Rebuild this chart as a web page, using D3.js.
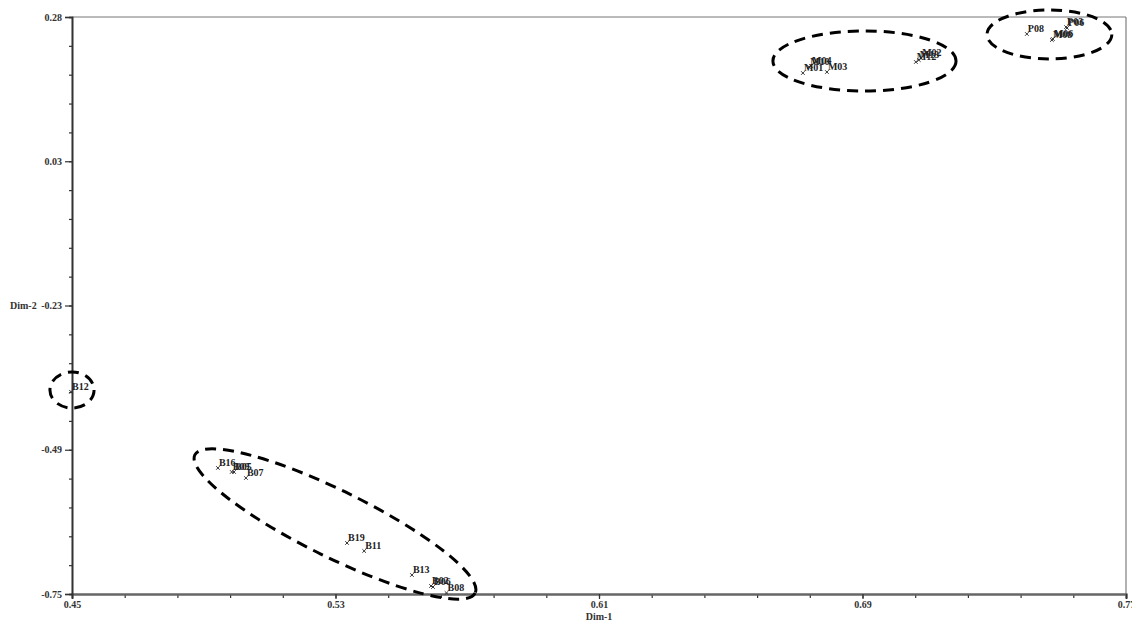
<!DOCTYPE html>
<html>
<head>
<meta charset="utf-8">
<script src="https://cdn.jsdelivr.net/npm/d3@7"></script>
<style>
  html, body { margin: 0; padding: 0; background: #fff; }
  svg { display: block; }
  text { font-family: "Liberation Serif", "DejaVu Serif", serif; }
</style>
</head>
<body>
<svg id="chart" width="1132" height="621"></svg>
<script>
// Sample coordinates on the first two dimensions
const names = ["B12",
  "B16", "B09", "B05", "B07",
  "B19", "B11", "B13", "B02", "B06", "B08",
  "M01", "M10", "M04", "M03", "M12", "M13", "M02",
  "P08", "P03", "P06", "M06", "M08"];
const dim1 = [0.4497,
  0.4943, 0.4985, 0.4992, 0.5028,
  0.5335, 0.5387, 0.5532, 0.5590, 0.5596, 0.5637,
  0.6719, 0.6738, 0.6744, 0.6792, 0.7062, 0.7071, 0.7078,
  0.7399, 0.7518, 0.7521, 0.7478, 0.7475];
const dim2 = [-0.389,
  -0.5250, -0.5322, -0.5322, -0.5429,
  -0.6589, -0.6732, -0.7161, -0.7357, -0.7375, -0.7482,
  0.1800, 0.1908, 0.1925, 0.1818, 0.1997, 0.2032, 0.2068,
  0.2497, 0.2620, 0.2604, 0.2407, 0.2389];

// Axis ticks
const xDomain = [0.45, 0.77];
const yDomain = [-0.75, 0.28];
const xTickLabels = ["0.45", "0.53", "0.61", "0.69", "0.77"];
const yTickLabels = ["-0.75", "-0.49", "-0.23", "0.03", "0.28"];
const xMinorPerMajor = 5;
const yMinorPerMajor = 5;

// Group outlines: two end points of the long axis (data units) and minor/major ratio
const groupTipA = [[0.7278, 0.2488], [0.6628, 0.2015], [0.4433, -0.3858], [0.4873, -0.5018]];
const groupTipB = [[0.7657, 0.2488], [0.7184, 0.2015], [0.4567, -0.3858], [0.5724, -0.7482]];
const groupRatio = [0.392, 0.328, 0.818, 0.213];

const svg = d3.select("#chart");
const plotLeft = 72, plotRight = 1126, plotTop = 17, plotBottom = 594;

const x = d3.scaleLinear().domain(xDomain).range([plotLeft, plotRight]);
const y = d3.scaleLinear().domain(yDomain).range([plotBottom, plotTop]);

const xMajor = xTickLabels.map((_, i) => xDomain[0] + i * (xDomain[1] - xDomain[0]) / (xTickLabels.length - 1));
const yMajor = yTickLabels.map((_, i) => yDomain[0] + i * (yDomain[1] - yDomain[0]) / (yTickLabels.length - 1));
const nx = (xTickLabels.length - 1) * xMinorPerMajor;
const ny = (yTickLabels.length - 1) * yMinorPerMajor;
const xMinor = d3.range(nx + 1).map(i => xDomain[0] + i * (xDomain[1] - xDomain[0]) / nx);
const yMinor = d3.range(ny + 1).map(i => yDomain[0] + i * (yDomain[1] - yDomain[0]) / ny);

// Frame: top and right borders
svg.append("line").attr("x1", plotLeft).attr("x2", plotRight).attr("y1", plotTop).attr("y2", plotTop)
  .attr("stroke", "#777").attr("stroke-width", 1);
svg.append("line").attr("x1", plotRight).attr("x2", plotRight).attr("y1", plotTop).attr("y2", plotBottom)
  .attr("stroke", "#888").attr("stroke-width", 1.3);

// X axis
const gx = svg.append("g").attr("transform", `translate(0,${plotBottom})`);
gx.call(d3.axisBottom(x).tickValues(xMinor).tickSize(4).tickFormat(""));
gx.append("g").call(d3.axisBottom(x).tickValues(xMajor).tickSize(5)
  .tickFormat((d, i) => xTickLabels[i]));
gx.selectAll(".domain").attr("stroke", "#666").attr("stroke-width", 2);
gx.selectAll(".tick line").attr("stroke", "#333").attr("stroke-width", 1.2);
gx.selectAll("text").attr("font-family", "Liberation Serif, serif").attr("font-size", 10)
  .attr("font-weight", "bold").attr("fill", "#333").attr("dy", "0.55em");

// Y axis
const gy = svg.append("g").attr("transform", `translate(${plotLeft},0)`);
gy.call(d3.axisLeft(y).tickValues(yMinor).tickSize(3).tickFormat(""));
gy.append("g").call(d3.axisLeft(y).tickValues(yMajor).tickSize(7).tickPadding(3)
  .tickFormat((d, i) => yTickLabels[i]));
gy.selectAll(".domain").attr("stroke", "#333").attr("stroke-width", 1.6);
gy.selectAll(".tick line").attr("stroke", "#333").attr("stroke-width", 1.2);
gy.selectAll("text").attr("font-family", "Liberation Serif, serif").attr("font-size", 10)
  .attr("font-weight", "bold").attr("fill", "#333");

// Axis titles
svg.append("text").attr("x", x(0.61)).attr("y", 620).attr("text-anchor", "middle")
  .attr("font-size", 10).attr("font-weight", "bold").attr("fill", "#333").text("Dim-1");
svg.append("text").attr("x", 10).attr("y", y(yMajor[2]) + 3.5).attr("text-anchor", "start")
  .attr("font-size", 10).attr("font-weight", "bold").attr("fill", "#333").text("Dim-2");

// Points and labels
const pts = names.map((n, i) => ({ name: n, d1: dim1[i], d2: dim2[i] }));
const marker = d3.symbol(d3.symbolTimes, 10);
const gp = svg.append("g");
gp.selectAll("path").data(pts).join("path")
  .attr("d", marker)
  .attr("transform", d => `translate(${x(d.d1)},${y(d.d2)})`)
  .attr("fill", "none").attr("stroke", "#333").attr("stroke-width", 1);
gp.selectAll("text").data(pts).join("text")
  .attr("x", d => x(d.d1) + 1)
  .attr("y", d => y(d.d2) - 2)
  .attr("font-size", 10).attr("font-weight", "bold").attr("fill", "#222")
  .text(d => d.name);

// Dashed outlines around the groups
const ge = svg.append("g");
groupTipA.forEach((a, i) => {
  const b = groupTipB[i];
  const ax = x(a[0]), ay = y(a[1]), bx = x(b[0]), by = y(b[1]);
  const cx = (ax + bx) / 2, cy = (ay + by) / 2;
  const rx = Math.hypot(bx - ax, by - ay) / 2;
  const ang = Math.atan2(by - ay, bx - ax) * 180 / Math.PI;
  ge.append("ellipse")
    .attr("cx", 0).attr("cy", 0).attr("rx", rx).attr("ry", rx * groupRatio[i])
    .attr("transform", `translate(${cx},${cy}) rotate(${ang})`)
    .attr("fill", "none").attr("stroke", "#000").attr("stroke-width", 3)
    .attr("stroke-dasharray", "11 7");
});
</script>
</body>
</html>
